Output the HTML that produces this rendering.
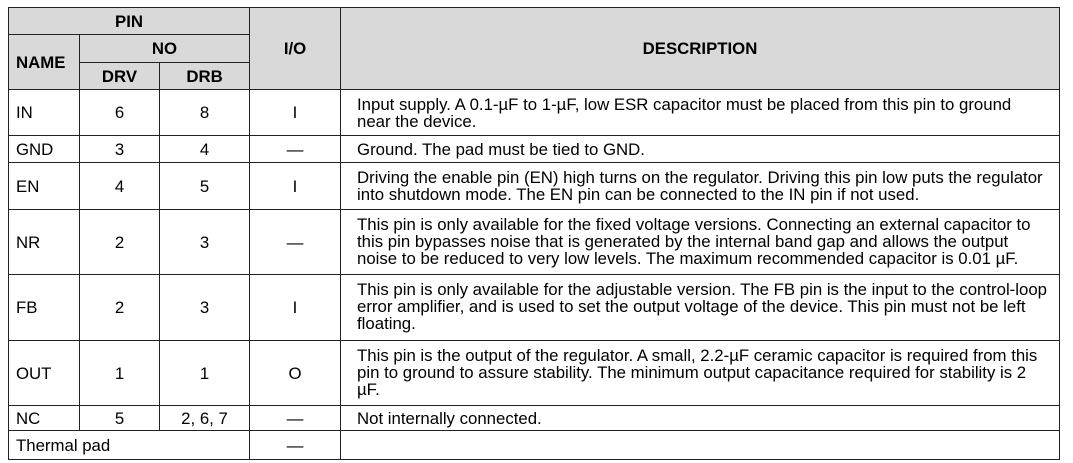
<!DOCTYPE html>
<html><head><meta charset="utf-8"><style>
body{margin:0;background:#fff;width:1073px;height:463px;overflow:hidden;font-family:"Liberation Sans",Arial,sans-serif;font-size:16.8px;color:#000}
table{position:absolute;left:8px;top:7px;border-collapse:collapse;table-layout:fixed;width:1051px}
td{border:1.3px solid #222;padding:0;vertical-align:middle;line-height:17px;overflow:hidden;white-space:nowrap}
.h{background:#d9d9d9;font-weight:bold;text-align:center}
.c{text-align:center}
.n{padding-left:7px}
.d{padding-left:16px;vertical-align:top;padding-top:6px}
</style></head><body>
<table>
<colgroup><col style="width:71px"><col style="width:80px"><col style="width:90px"><col style="width:91px"><col style="width:719px"></colgroup>
<tr style="height:27px"><td class="h" colspan="3">PIN</td><td class="h" rowspan="3">I/O</td><td class="h" rowspan="3">DESCRIPTION</td></tr>
<tr style="height:28px"><td class="h" rowspan="2" style="text-align:left;padding-left:7px">NAME</td><td class="h" colspan="2">NO</td></tr>
<tr style="height:27px"><td class="h">DRV</td><td class="h">DRB</td></tr>
<tr style="height:46px"><td class="n">IN</td><td class="c">6</td><td class="c">8</td><td class="c">I</td><td class="d">Input supply. A 0.1-µF to 1-µF, low ESR capacitor must be placed from this pin to ground<br>near the device.</td></tr>
<tr style="height:27px"><td class="n">GND</td><td class="c">3</td><td class="c">4</td><td class="c">—</td><td class="d" style="vertical-align:middle;padding-top:0">Ground. The pad must be tied to GND.</td></tr>
<tr style="height:47px"><td class="n">EN</td><td class="c">4</td><td class="c">5</td><td class="c">I</td><td class="d">Driving the enable pin (EN) high turns on the regulator. Driving this pin low puts the regulator<br>into shutdown mode. The EN pin can be connected to the IN pin if not used.</td></tr>
<tr style="height:65px"><td class="n">NR</td><td class="c">2</td><td class="c">3</td><td class="c">—</td><td class="d">This pin is only available for the fixed voltage versions. Connecting an external capacitor to<br>this pin bypasses noise that is generated by the internal band gap and allows the output<br>noise to be reduced to very low levels. The maximum recommended capacitor is 0.01 µF.</td></tr>
<tr style="height:66px"><td class="n">FB</td><td class="c">2</td><td class="c">3</td><td class="c">I</td><td class="d">This pin is only available for the adjustable version. The FB pin is the input to the control-loop<br>error amplifier, and is used to set the output voltage of the device. This pin must not be left<br>floating.</td></tr>
<tr style="height:65px"><td class="n">OUT</td><td class="c">1</td><td class="c">1</td><td class="c">O</td><td class="d">This pin is the output of the regulator. A small, 2.2-µF ceramic capacitor is required from this<br>pin to ground to assure stability. The minimum output capacitance required for stability is 2<br>µF.</td></tr>
<tr style="height:25px"><td class="n">NC</td><td class="c">5</td><td class="c">2, 6, 7</td><td class="c">—</td><td class="d" style="vertical-align:middle;padding-top:0">Not internally connected.</td></tr>
<tr style="height:29px"><td class="n" colspan="3">Thermal pad</td><td class="c">—</td><td></td></tr>
</table>
</body></html>
